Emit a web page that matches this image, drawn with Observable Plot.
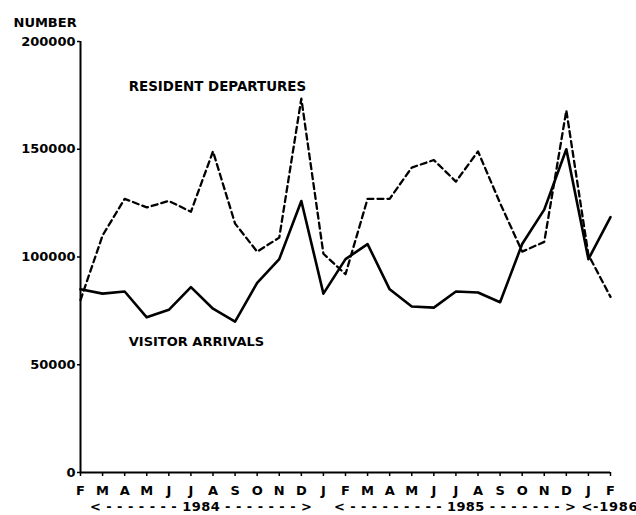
<!DOCTYPE html>
<html>
<head>
<meta charset="utf-8">
<script src="https://cdn.jsdelivr.net/npm/d3@7"></script>
<script src="https://cdn.jsdelivr.net/npm/@observablehq/plot@0.6"></script>
<style>
  body { margin: 0; background: #fff; }
</style>
</head>
<body>
<div id="chart"></div>
<script>
// ---- data ----
const months = ["F","M","A","M","J","J","A","S","O","N","D","J","F","M","A","M","J","J","A","S","O","N","D","J","F"];
const monthYears = [1984,1984,1984,1984,1984,1984,1984,1984,1984,1984,1984,
                    1985,1985,1985,1985,1985,1985,1985,1985,1985,1985,1985,1985,
                    1986,1986];
const visitorArrivals = [85000, 83000, 84000, 72000, 75500, 86000, 76000, 70000, 88000, 99000, 126000,
                         83000, 99000, 106000, 85000, 77000, 76500, 84000, 83500, 79000, 106000, 122000, 150000,
                         99000, 118500];
const residentDepartures = [80000, 110000, 127000, 123000, 126000, 121000, 149000, 115500, 102500, 109000, 173500,
                            101500, 92000, 127000, 127000, 141500, 145000, 135000, 149000, 125000, 102500, 107000, 168000,
                            101000, 81500];
const years = [1984, 1985, 1986];
const yearTexts = ["< - - - - - - - 1984 - - - - - - - >",
                   "< - - - - - - - - - 1985 - - - - - - - >",
                   "<-1986"];
const yTicks = [0, 50000, 100000, 150000, 200000];
const seriesNames = ["VISITOR ARRIVALS", "RESIDENT DEPARTURES"];
const axisTitle = "NUMBER";

// ---- build table ----
const data = months.map((m, i) => ({
  i, m, year: monthYears[i],
  visitors: visitorArrivals[i],
  residents: residentDepartures[i]
}));
const spans = years.map((y, k) => {
  const idx = data.filter(d => d.year === y).map(d => d.i);
  return {year: y, text: yearTexts[k], mid: (d3.min(idx) + d3.max(idx)) / 2};
});

const chart = Plot.plot({
  width: 636,
  height: 515,
  marginLeft: 80,
  marginRight: 26,
  marginTop: 41,
  marginBottom: 43,
  style: {
    fontFamily: "'DejaVu Sans', sans-serif",
    fontSize: "13px",
    fontWeight: "bold",
    background: "#fff",
    color: "#000",
    overflow: "visible"
  },
  x: {domain: [0, 24]},
  y: {domain: [0, 200000]},
  marks: [
    Plot.axisY({ticks: yTicks, tickFormat: d3.format("d"), tickSize: 3, tickPadding: 2, label: null, strokeWidth: 1.5}),
    Plot.axisX({ticks: data.map(d => d.i), tickFormat: i => months[i], tickSize: 4, tickPadding: 9, label: null, strokeWidth: 1.5}),
    Plot.ruleX([0], {strokeWidth: 2}),
    Plot.ruleY([0], {strokeWidth: 2}),
    Plot.line(data, {x: "i", y: "residents", stroke: "#000", strokeWidth: 2.3, strokeDasharray: "6,4"}),
    Plot.line(data, {x: "i", y: "visitors", stroke: "#000", strokeWidth: 2.6}),
    Plot.text(spans, {x: "mid", y: () => 0, text: "text", dx: 10, dy: 34}),
    Plot.text([axisTitle], {text: d => d, frameAnchor: "top-left", dx: -67, dy: -24, textAnchor: "start"}),
    Plot.text([seriesNames[1]], {text: d => d, x: () => 6.2, y: () => 179000, fontSize: 13.4}),
    Plot.text([seriesNames[0]], {text: d => d, x: () => 5.25, y: () => 60500})
  ]
});

document.getElementById("chart").appendChild(chart);

// stretch the year labels to the width of their spans
const lengths = [222, 242, 56];
chart.querySelectorAll("text").forEach(t => {
  const k = yearTexts.indexOf(t.textContent);
  if (k >= 0) {
    t.setAttribute("textLength", lengths[k]);
    t.setAttribute("lengthAdjust", "spacing");
  }
});
</script>
</body>
</html>
